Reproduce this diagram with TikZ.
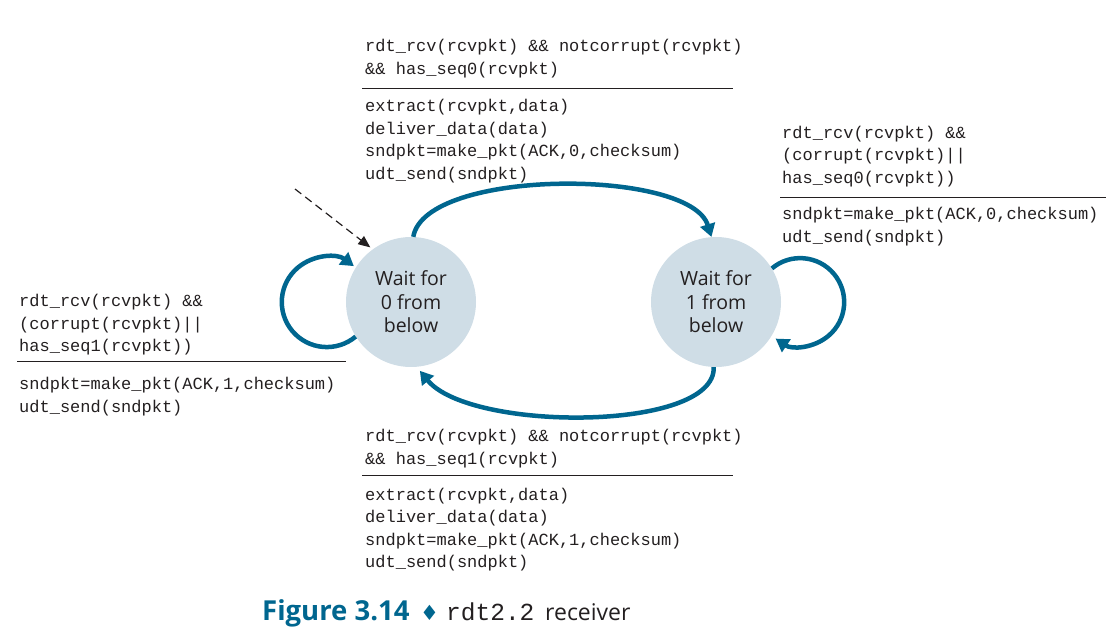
\documentclass[tikz,border=0pt]{standalone}
\usepackage{fontspec}
\setmainfont{Open Sans}
\setmonofont{Liberation Mono}
\newfontfamily\symfont{DejaVu Sans}
\usetikzlibrary{arrows.meta}
\definecolor{fsmblue}{HTML}{00668F}
\definecolor{statefill}{HTML}{CFDDE6}
\definecolor{ink}{HTML}{231F20}

\begin{document}
\begin{tikzpicture}[x=1pt,y=1pt,
  state/.style={circle, fill=statefill, minimum size=130pt, inner sep=0pt,
    align=center, text=ink, font=\fontsize{19.5}{23.5}\selectfont},
  trans/.style={draw=fsmblue, line width=4.5pt,
    -{Triangle[length=13pt,width=15pt]}},
  % code blocks are placed by the baseline of their last line
  code/.style={anchor=base west, inner sep=0pt, align=left, text=ink,
    font=\ttfamily\fontsize{17}{22.6}\selectfont},
  rulebar/.style={draw=ink, line width=1.3pt},
  initarrow/.style={draw=ink, line width=1.2pt, dash pattern=on 8pt off 5pt,
    -{Triangle[length=12pt,width=10pt]}},
  captext/.style={anchor=base west, inner sep=0pt}
]
\useasboundingbox (0,0) rectangle (1120,-636);

% states
\node[state] (s0) at (411,-302) {Wait for\\0 from\\below};
\node[state] (s1) at (716,-302) {Wait for\\1 from\\below};

% initial arrow
\coordinate (start) at (295,-189);
\draw[initarrow, shorten >=3pt] (start) -- (s0.126);

% transitions between states
\draw[trans] (s0.88) .. controls (425,-168) and (690,-168) .. (s1.94);
\draw[trans, shorten >=5pt] (s1.-92) .. controls (716,-432) and (470,-432) .. (s0.-85);

% self loops
\draw[trans] (s0.212) arc[start angle=-50, end angle=-307, radius=45];
\draw[trans] (s1.31) arc[start angle=130, end angle=-124, radius=44];

% top label
\node[code] (g01) at (365,-74.3) {rdt\_rcv(rcvpkt) \&\& notcorrupt(rcvpkt)\\\&\& has\_seq0(rcvpkt)};
\draw[rulebar] (362,-88.3) -- (733,-88.3);
\node[code] (a01) at (365,-179.5) {extract(rcvpkt,data)\\deliver\_data(data)\\sndpkt=make\_pkt(ACK,0,checksum)\\udt\_send(sndpkt)};

% right label
\node[code] (g11) at (782,-183.5) {rdt\_rcv(rcvpkt) \&\&\\(corrupt(rcvpkt)||\\has\_seq0(rcvpkt))};
\draw[rulebar] (780,-197.7) -- (1106,-197.7);
\node[code] (a11) at (782,-242.6) {sndpkt=make\_pkt(ACK,0,checksum)\\udt\_send(sndpkt)};

% left label
\node[code] (g00) at (19,-351.9) {rdt\_rcv(rcvpkt) \&\&\\(corrupt(rcvpkt)||\\has\_seq1(rcvpkt))};
\draw[rulebar] (17,-361.7) -- (346,-361.7);
\node[code] (a00) at (19,-412.6) {sndpkt=make\_pkt(ACK,1,checksum)\\udt\_send(sndpkt)};

% bottom label
\node[code] (g10) at (365,-464.3) {rdt\_rcv(rcvpkt) \&\& notcorrupt(rcvpkt)\\\&\& has\_seq1(rcvpkt)};
\draw[rulebar] (362,-475.7) -- (733,-475.7);
\node[code] (a10) at (365,-567.8) {extract(rcvpkt,data)\\deliver\_data(data)\\sndpkt=make\_pkt(ACK,1,checksum)\\udt\_send(sndpkt)};

% caption
\node[captext, text=fsmblue, font=\bfseries\fontsize{27.5}{30}\selectfont] (fig) at (262,-620) {Figure 3.14};
\node[captext, text=fsmblue, font=\symfont\fontsize{21}{22}\selectfont] (dia) at (420,-620) {♦};
\node[captext, text=ink, font=\ttfamily\fontsize{24.5}{26}\selectfont] (prog) at (446,-620) {rdt2.2};
\node[captext, text=ink, font=\fontsize{23}{26}\selectfont] (recv) at (545,-620) {receiver};
\end{tikzpicture}
\end{document}
